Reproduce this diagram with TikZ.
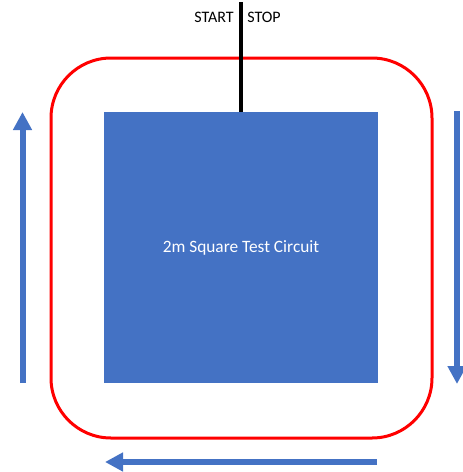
\documentclass[tikz,border=0pt]{standalone}
\usepackage{fontspec}
\setmainfont{Carlito}
\usetikzlibrary{arrows.meta,positioning}

\definecolor{blocblue}{HTML}{4472C4}
\tikzset{
  circuitbox/.style={fill=blocblue, draw=none, minimum width=205.5pt, minimum height=203.25pt, inner sep=0pt, text=white, font=\fontsize{13}{15}\selectfont},
  trackbox/.style={draw=red, line width=2.25pt, rounded corners=45pt, minimum width=285.75pt, minimum height=285pt, inner sep=0pt},
  flow/.style={draw=blocblue, line width=4.5pt, -{Triangle[width=13.5pt,length=13.5pt]}},
  lbl/.style={inner sep=0pt, font=\fontsize{12}{14}\selectfont}
}

\begin{document}
\begin{tikzpicture}[x=0.75pt,y=-0.75pt]
\useasboundingbox (0,0) rectangle (463,472);

\node[trackbox] (track) at (241.5,248) {};
\node[circuitbox] (circuit) at (241,247.5) {2m Square Test Circuit};

\coordinate (gate) at (241,2);
\draw[line width=3pt] (gate) -- (circuit.north);

\node[lbl, anchor=east] (start) at (234,17) {START};
\node[lbl, anchor=west] (stop) at (247,17) {STOP};

% direction arrows
\coordinate (left a) at (22.5,383);
\coordinate (left b) at (22.5,112);
\coordinate (right a) at (457,111);
\coordinate (right b) at (457,384);
\coordinate (bottom a) at (377,462);
\coordinate (bottom b) at (105,462);

\draw[flow] (left a) -- (left b);
\draw[flow] (right a) -- (right b);
\draw[flow] (bottom a) -- (bottom b);
\end{tikzpicture}
\end{document}
